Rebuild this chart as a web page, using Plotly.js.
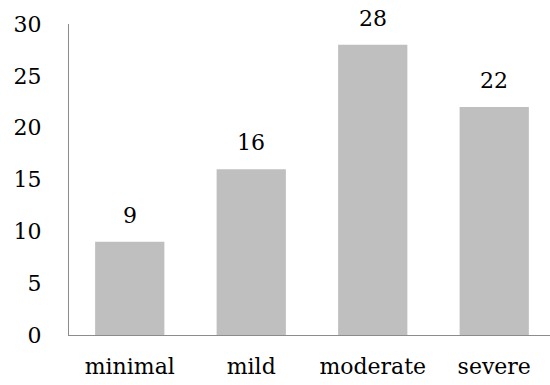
<!DOCTYPE html>
<html><head><meta charset="utf-8">
<script src="https://cdn.plot.ly/plotly-3.0.1.min.js"></script>
<style>html,body{margin:0;padding:0;background:#fff;}#chart{width:550px;height:385px;}</style>
</head><body><div id="chart"></div>
<script>
const categories = ["minimal", "mild", "moderate", "severe"];
const values = [9, 16, 28, 22];
const yTicks = [0, 5, 10, 15, 20, 25, 30];

const font = {family: "DejaVu Serif, serif", size: 22, color: "#000"};

const trace = {
  type: "bar",
  x: categories,
  y: values,
  marker: {color: "#bfbfbf", line: {width: 0}},
  hoverinfo: "none"
};

const annotations = categories.map((c, i) => ({
  x: c, y: values[i], xref: "x", yref: "y",
  text: String(values[i]), showarrow: false,
  yanchor: "bottom", yshift: 12, font: font
}));

const layout = {
  width: 550, height: 385,
  margin: {l: 69, r: 0, t: 24, b: 50, pad: 0},
  paper_bgcolor: "#fff", plot_bgcolor: "#fff",
  bargap: 0.43,
  showlegend: false,
  font: font,
  xaxis: {
    type: "category",
    range: [-0.5, 3.459],
    showline: true, linecolor: "#8c8c8c", linewidth: 1,
    showgrid: false, zeroline: false,
    ticks: "", ticklabelstandoff: 12,
    tickfont: font
  },
  yaxis: {
    range: [0, 30],
    tickvals: yTicks,
    ticktext: yTicks.map(String),
    showline: true, linecolor: "#8c8c8c", linewidth: 1,
    showgrid: false, zeroline: false,
    ticks: "", ticklabelstandoff: 22,
    tickfont: font
  },
  annotations: annotations
};

Plotly.newPlot("chart", [trace], layout, {staticPlot: true, displayModeBar: false});
</script></body></html>
